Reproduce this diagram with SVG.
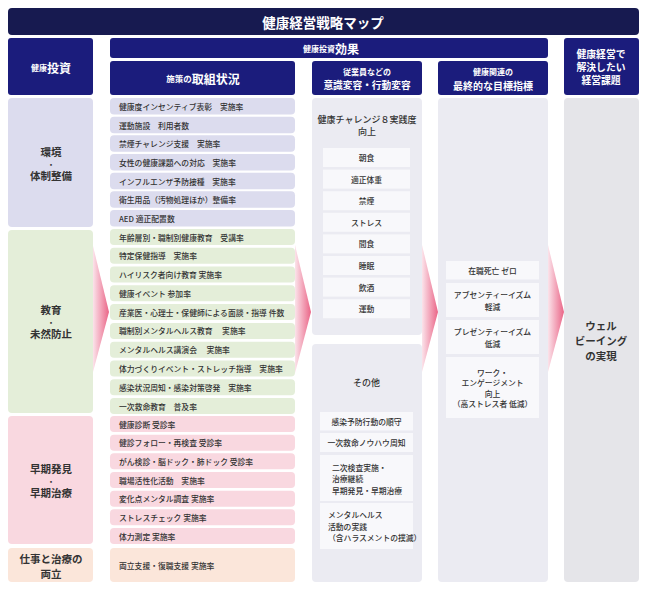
<svg xmlns="http://www.w3.org/2000/svg" width="647" height="590" viewBox="0 0 647 590">
<defs>
<linearGradient id="pinkGrad" x1="0" y1="0" x2="1" y2="0">
<stop offset="0" stop-color="#fbe3ea"/>
<stop offset="1" stop-color="#ea6587"/>
</linearGradient>
<style>
text{font-family:"Noto Sans CJK JP","Noto Sans",sans-serif;dominant-baseline:central}
.title{fill:#171a50}
.hdr{fill:#1b1c7c}
.wt{fill:#ffffff;font-weight:700;text-anchor:middle}
.cat{font-size:10.5px;font-weight:700;fill:#333;text-anchor:middle}
.dot{font-size:7px;font-weight:700;fill:#333;text-anchor:middle}
.it{font-size:7.8px;font-weight:500;fill:#333}
.env{fill:#dcdcee}
.edu{fill:#e4eed9}
.early{fill:#f9d8e0}
.work{fill:#fbe6da}
.col{fill:#ebebf2}
.col4{fill:#e5e5e9}
.sub{fill:#f8f8fb}
.st{font-size:7.8px;font-weight:500;fill:#333;text-anchor:middle}
.sl{font-size:7.8px;font-weight:500;fill:#333}
.arrow{fill:url(#pinkGrad)}
</style>
</defs>
<rect width="647" height="590" fill="#ffffff"/>

<g id="title">
<rect class="title" x="8" y="8" width="631" height="27" rx="4"/>
<text class="wt" x="323" y="21.5" font-size="13.5">健康経営戦略マップ</text>
</g>

<g id="hdr-invest">
<rect class="hdr" x="8" y="38" width="85" height="57" rx="3"/>
<text class="wt" x="51" y="67"><tspan font-size="8">健康</tspan><tspan font-size="12">投資</tspan></text>
</g>
<g id="hdr-effect">
<rect class="hdr" x="110" y="38" width="438" height="20" rx="3"/>
<text class="wt" x="331" y="48"><tspan font-size="8">健康投資</tspan><tspan font-size="12">効果</tspan></text>
</g>
<g id="hdr-measures">
<rect class="hdr" x="110" y="61" width="185" height="34" rx="3"/>
<text class="wt" x="203" y="78"><tspan font-size="8.5">施策の</tspan><tspan font-size="12">取組状況</tspan></text>
</g>
<g id="hdr-behavior">
<rect class="hdr" x="312" y="61" width="110" height="34" rx="3"/>
<text class="wt" x="367" y="71" font-size="8">従業員などの</text>
<text class="wt" x="367" y="85" font-size="9.7">意識変容・行動変容</text>
</g>
<g id="hdr-goal">
<rect class="hdr" x="438" y="61" width="110" height="34" rx="3"/>
<text class="wt" x="493" y="71" font-size="8">健康関連の</text>
<text class="wt" x="493" y="85" font-size="10">最終的な目標指標</text>
</g>
<g id="hdr-issue">
<rect class="hdr" x="564" y="38" width="75" height="57" rx="3"/>
<text class="wt" x="601" y="54.3" font-size="9.8">健康経営で</text>
<text class="wt" x="601" y="67.2" font-size="9.8">解決したい</text>
<text class="wt" x="601" y="80.1" font-size="9.8">経営課題</text>
</g>

<g id="cat-env">
<rect class="env" x="8" y="98" width="85" height="129" rx="4"/>
<text class="cat" x="51" y="151.5">環境</text>
<text class="dot" x="51" y="163.5">・</text>
<text class="cat" x="51" y="175.5">体制整備</text>
</g>
<g id="cat-edu">
<rect class="edu" x="8" y="230" width="85" height="183" rx="4"/>
<text class="cat" x="51" y="309.5">教育</text>
<text class="dot" x="51" y="321.5">・</text>
<text class="cat" x="51" y="333.5">未然防止</text>
</g>
<g id="cat-early">
<rect class="early" x="8" y="416" width="85" height="128" rx="4"/>
<text class="cat" x="51" y="468.5">早期発見</text>
<text class="dot" x="51" y="480.5">・</text>
<text class="cat" x="51" y="492.5">早期治療</text>
</g>
<g id="cat-work">
<rect class="work" x="8" y="548" width="85" height="34" rx="4"/>
<text class="cat" x="51" y="558.5">仕事と治療の</text>
<text class="cat" x="51" y="573">両立</text>
</g>

<g id="items-env">
<rect class="env" x="110" y="98" width="185" height="16.5" rx="4"/>
<text class="it" x="119" y="106.3">健康度インセンティブ表彰　実施率</text>
<rect class="env" x="110" y="116.7" width="185" height="16.5" rx="4"/>
<text class="it" x="119" y="125">運動施設　利用者数</text>
<rect class="env" x="110" y="135.3" width="185" height="16.5" rx="4"/>
<text class="it" x="119" y="143.6">禁煙チャレンジ支援　実施率</text>
<rect class="env" x="110" y="154" width="185" height="16.5" rx="4"/>
<text class="it" x="119" y="162.3">女性の健康課題への対応　実施率</text>
<rect class="env" x="110" y="172.7" width="185" height="16.5" rx="4"/>
<text class="it" x="119" y="181">インフルエンザ予防接種　実施率</text>
<rect class="env" x="110" y="191.3" width="185" height="16.5" rx="4"/>
<text class="it" x="119" y="199.6">衛生用品（汚物処理ほか）整備率</text>
<rect class="env" x="110" y="210" width="185" height="16.5" rx="4"/>
<text class="it" x="119" y="218.3">AED 適正配置数</text>
</g>

<g id="items-edu">
<rect class="edu" x="110" y="229" width="185" height="16" rx="4"/>
<text class="it" x="119" y="237">年齢層別・職制別健康教育　受講率</text>
<rect class="edu" x="110" y="247.8" width="185" height="16" rx="4"/>
<text class="it" x="119" y="255.8">特定保健指導　実施率</text>
<rect class="edu" x="110" y="266.6" width="185" height="16" rx="4"/>
<text class="it" x="119" y="274.6">ハイリスク者向け教育 実施率</text>
<rect class="edu" x="110" y="285.3" width="185" height="16" rx="4"/>
<text class="it" x="119" y="293.3">健康イベント 参加率</text>
<rect class="edu" x="110" y="304.1" width="185" height="16" rx="4"/>
<text class="it" x="119" y="312.1">産業医・心理士・保健師による面談・指導 件数</text>
<rect class="edu" x="110" y="322.9" width="185" height="16" rx="4"/>
<text class="it" x="119" y="330.9">職制別メンタルヘルス教育　 実施率</text>
<rect class="edu" x="110" y="341.7" width="185" height="16" rx="4"/>
<text class="it" x="119" y="349.7">メンタルヘルス講演会　 実施率</text>
<rect class="edu" x="110" y="360.5" width="185" height="16" rx="4"/>
<text class="it" x="119" y="368.5">体力づくりイベント・ストレッチ指導　実施率</text>
<rect class="edu" x="110" y="379.2" width="185" height="16" rx="4"/>
<text class="it" x="119" y="387.2">感染状況周知・感染対策啓発　実施率</text>
<rect class="edu" x="110" y="398" width="185" height="16" rx="4"/>
<text class="it" x="119" y="406">一次救命教育　普及率</text>
</g>

<g id="items-early">
<rect class="early" x="110" y="416" width="185" height="16" rx="4"/>
<text class="it" x="119" y="424">健康診断 受診率</text>
<rect class="early" x="110" y="434.7" width="185" height="16" rx="4"/>
<text class="it" x="119" y="442.7">健診フォロー・再検査 受診率</text>
<rect class="early" x="110" y="453.3" width="185" height="16" rx="4"/>
<text class="it" x="119" y="461.3">がん検診・脳ドック・肺ドック 受診率</text>
<rect class="early" x="110" y="472" width="185" height="16" rx="4"/>
<text class="it" x="119" y="480">職場活性化活動　実施率</text>
<rect class="early" x="110" y="490.7" width="185" height="16" rx="4"/>
<text class="it" x="119" y="498.7">変化点メンタル調査 実施率</text>
<rect class="early" x="110" y="509.3" width="185" height="16" rx="4"/>
<text class="it" x="119" y="517.3">ストレスチェック 実施率</text>
<rect class="early" x="110" y="528" width="185" height="16" rx="4"/>
<text class="it" x="119" y="536">体力測定 実施率</text>
</g>

<g id="items-work">
<rect class="work" x="110" y="548" width="185" height="34" rx="4"/>
<text class="it" x="119" y="565">両立支援・復職支援 実施率</text>
</g>

<g id="behavior-challenge">
<rect class="col" x="312" y="98" width="110" height="237" rx="4"/>
<text class="st" x="367" y="119.5" style="font-size:9px">健康チャレンジ８実践度</text>
<text class="st" x="367" y="131.5" style="font-size:9px">向上</text>
<rect class="sub" x="323" y="148" width="87" height="19"/>
<text class="st" x="366.5" y="157.5">朝食</text>
<rect class="sub" x="323" y="169.6" width="87" height="19"/>
<text class="st" x="366.5" y="179.1">適正体重</text>
<rect class="sub" x="323" y="191.2" width="87" height="19"/>
<text class="st" x="366.5" y="200.7">禁煙</text>
<rect class="sub" x="323" y="212.8" width="87" height="19"/>
<text class="st" x="366.5" y="222.3">ストレス</text>
<rect class="sub" x="323" y="234.4" width="87" height="19"/>
<text class="st" x="366.5" y="243.9">間食</text>
<rect class="sub" x="323" y="256" width="87" height="19"/>
<text class="st" x="366.5" y="265.5">睡眠</text>
<rect class="sub" x="323" y="277.6" width="87" height="19"/>
<text class="st" x="366.5" y="287.1">飲酒</text>
<rect class="sub" x="323" y="299.2" width="87" height="19"/>
<text class="st" x="366.5" y="308.7">運動</text>
</g>

<g id="behavior-other">
<rect class="col" x="312" y="344" width="110" height="238" rx="4"/>
<text class="st" x="366.5" y="382" style="font-size:9px">その他</text>
<rect class="sub" x="320" y="412" width="93" height="18.5"/>
<text class="st" x="366.5" y="421.2">感染予防行動の順守</text>
<rect class="sub" x="320" y="433" width="93" height="19"/>
<text class="st" x="366.5" y="442.5">一次救命ノウハウ周知</text>
<rect class="sub" x="320" y="455" width="93" height="46"/>
<text class="sl" x="332" y="467">二次検査実施・</text>
<text class="sl" x="332" y="478.5">治療継続</text>
<text class="sl" x="332" y="490">早期発見・早期治療</text>
<rect class="sub" x="320" y="503" width="93" height="46"/>
<text class="sl" x="328" y="514.5">メンタルヘルス</text>
<text class="sl" x="328" y="526">活動の実践</text>
<text class="sl" x="328" y="537.5">（含ハラスメントの撲滅）</text>
</g>

<g id="goals">
<rect class="col" x="438" y="98" width="110" height="484" rx="4"/>
<rect class="sub" x="446" y="261" width="93" height="18.5"/>
<text class="st" x="492.5" y="270.2">在職死亡 ゼロ</text>
<rect class="sub" x="446" y="283" width="93" height="34"/>
<text class="st" x="492.5" y="294.5">アブセンティーイズム</text>
<text class="st" x="492.5" y="306">軽減</text>
<rect class="sub" x="446" y="320" width="93" height="34"/>
<text class="st" x="492.5" y="331.5">プレゼンティーイズム</text>
<text class="st" x="492.5" y="343">低減</text>
<rect class="sub" x="446" y="357" width="93" height="61"/>
<text class="st" x="492.5" y="372">ワーク・</text>
<text class="st" x="492.5" y="382.5">エンゲージメント</text>
<text class="st" x="492.5" y="393">向上</text>
<text class="st" x="492.5" y="403.5">（高ストレス者 低減）</text>
</g>

<g id="wellbeing">
<rect class="col4" x="564" y="98" width="75" height="484" rx="4"/>
<text class="cat" x="601" y="325">ウェル</text>
<text class="cat" x="601" y="340">ビーイング</text>
<text class="cat" x="601" y="355">の実現</text>
</g>

<g id="connectors">
<polygon class="arrow" points="93,246 109,312 93,372"/>
<polygon class="arrow" points="295,245 311,312 295,373"/>
<polygon class="arrow" points="422,245 438,312 422,372"/>
<polygon class="arrow" points="548,245 564,312 548,372"/>
</g>
</svg>
